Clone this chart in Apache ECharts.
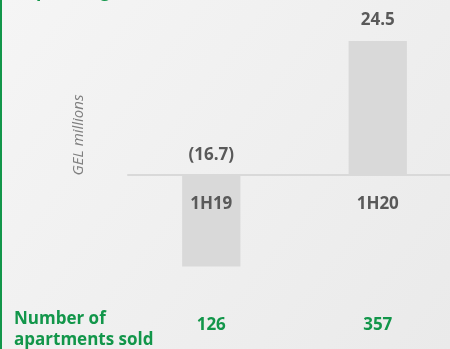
<!DOCTYPE html>
<html>
<head>
<meta charset="utf-8">
<script src="https://cdn.jsdelivr.net/npm/echarts@6/dist/echarts.min.js"></script>
<style>
  html, body { margin: 0; padding: 0; }
  #chart { width: 450px; height: 349px; }
</style>
</head>
<body>
<div id="chart"></div>
<script>
// Half-year periods
const periods = ['1H19', '1H20'];
// Operating result, GEL millions
const operatingResult = [-16.7, 24.5];
// Number of apartments sold per period
const apartmentsSold = [126, 357];

const GREEN = '#12964a';
const GREY_TEXT = '#595959';
const FONT = '"Open Sans", sans-serif';

// Y range and plot geometry
const Y_MIN = -20, Y_MAX = 30;
const GRID_TOP = 11, GRID_HEIGHT = 273.5;
// distance from the plot bottom up to the zero line
const zeroOffset = GRID_HEIGHT * (0 - Y_MIN) / (Y_MAX - Y_MIN);

const fmtValue = v => v < 0 ? '(' + Math.abs(v).toFixed(1) + ')' : v.toFixed(1);

const chart = echarts.init(document.getElementById('chart'), null, { renderer: 'canvas' });

chart.setOption({
  animation: false,
  backgroundColor: {
    type: 'linear', x: 0, y: 0, x2: 1, y2: 1,
    colorStops: [
      { offset: 0, color: '#f5f5f5' },
      { offset: 1, color: '#eaeaea' }
    ]
  },
  textStyle: { fontFamily: FONT },
  grid: {
    left: 128, width: 333, top: GRID_TOP, height: GRID_HEIGHT,
    containLabel: false,
    outerBoundsMode: 'none'
  },
  xAxis: [
    {
      type: 'category',
      data: periods,
      position: 'bottom',
      offset: -zeroOffset,
      z: 5,
      axisLine: { onZero: false, lineStyle: { color: '#d9d9d9', width: 2 } },
      axisTick: { show: false },
      axisLabel: {
        margin: 21,
        color: GREY_TEXT,
        fontFamily: FONT,
        fontWeight: 'bold',
        fontSize: 17
      }
    },
    {
      type: 'category',
      data: apartmentsSold,
      position: 'bottom',
      axisLine: { show: false, onZero: false },
      axisTick: { show: false },
      axisLabel: {
        margin: 32,
        color: GREEN,
        fontFamily: FONT,
        fontWeight: 'bold',
        fontSize: 17
      }
    }
  ],
  yAxis: {
    type: 'value',
    min: Y_MIN,
    max: Y_MAX,
    show: false,
    splitLine: { show: false }
  },
  graphic: [
    {
      type: 'rect',
      shape: { x: 0, y: 0, width: 2, height: 349 },
      style: { fill: GREEN }
    },
    {
      type: 'text',
      left: 22,
      top: -17,
      style: {
        text: 'Operating result',
        fill: GREEN,
        font: 'bold 17.5px ' + FONT
      }
    },
    {
      type: 'text',
      x: 79,
      y: 135,
      rotation: Math.PI / 2,
      style: {
        text: 'GEL millions',
        fill: '#7f7f7f',
        font: 'italic 15px ' + FONT,
        align: 'center',
        verticalAlign: 'middle'
      }
    },
    {
      type: 'text',
      left: 14,
      top: 309,
      style: {
        text: 'Number of\napartments sold',
        fill: GREEN,
        font: 'bold 17px ' + FONT,
        lineHeight: 21
      }
    }
  ],
  series: [
    {
      type: 'bar',
      barWidth: '35%',
      data: operatingResult.map(v => ({
        value: v,
        label: { distance: v < 0 ? 11 : 12 }
      })),
      itemStyle: { color: '#d9d9d9' },
      label: {
        show: true,
        position: 'top',
        color: GREY_TEXT,
        fontFamily: FONT,
        fontWeight: 'bold',
        fontSize: 17,
        formatter: p => fmtValue(p.value)
      }
    }
  ]
});
</script>
</body>
</html>
